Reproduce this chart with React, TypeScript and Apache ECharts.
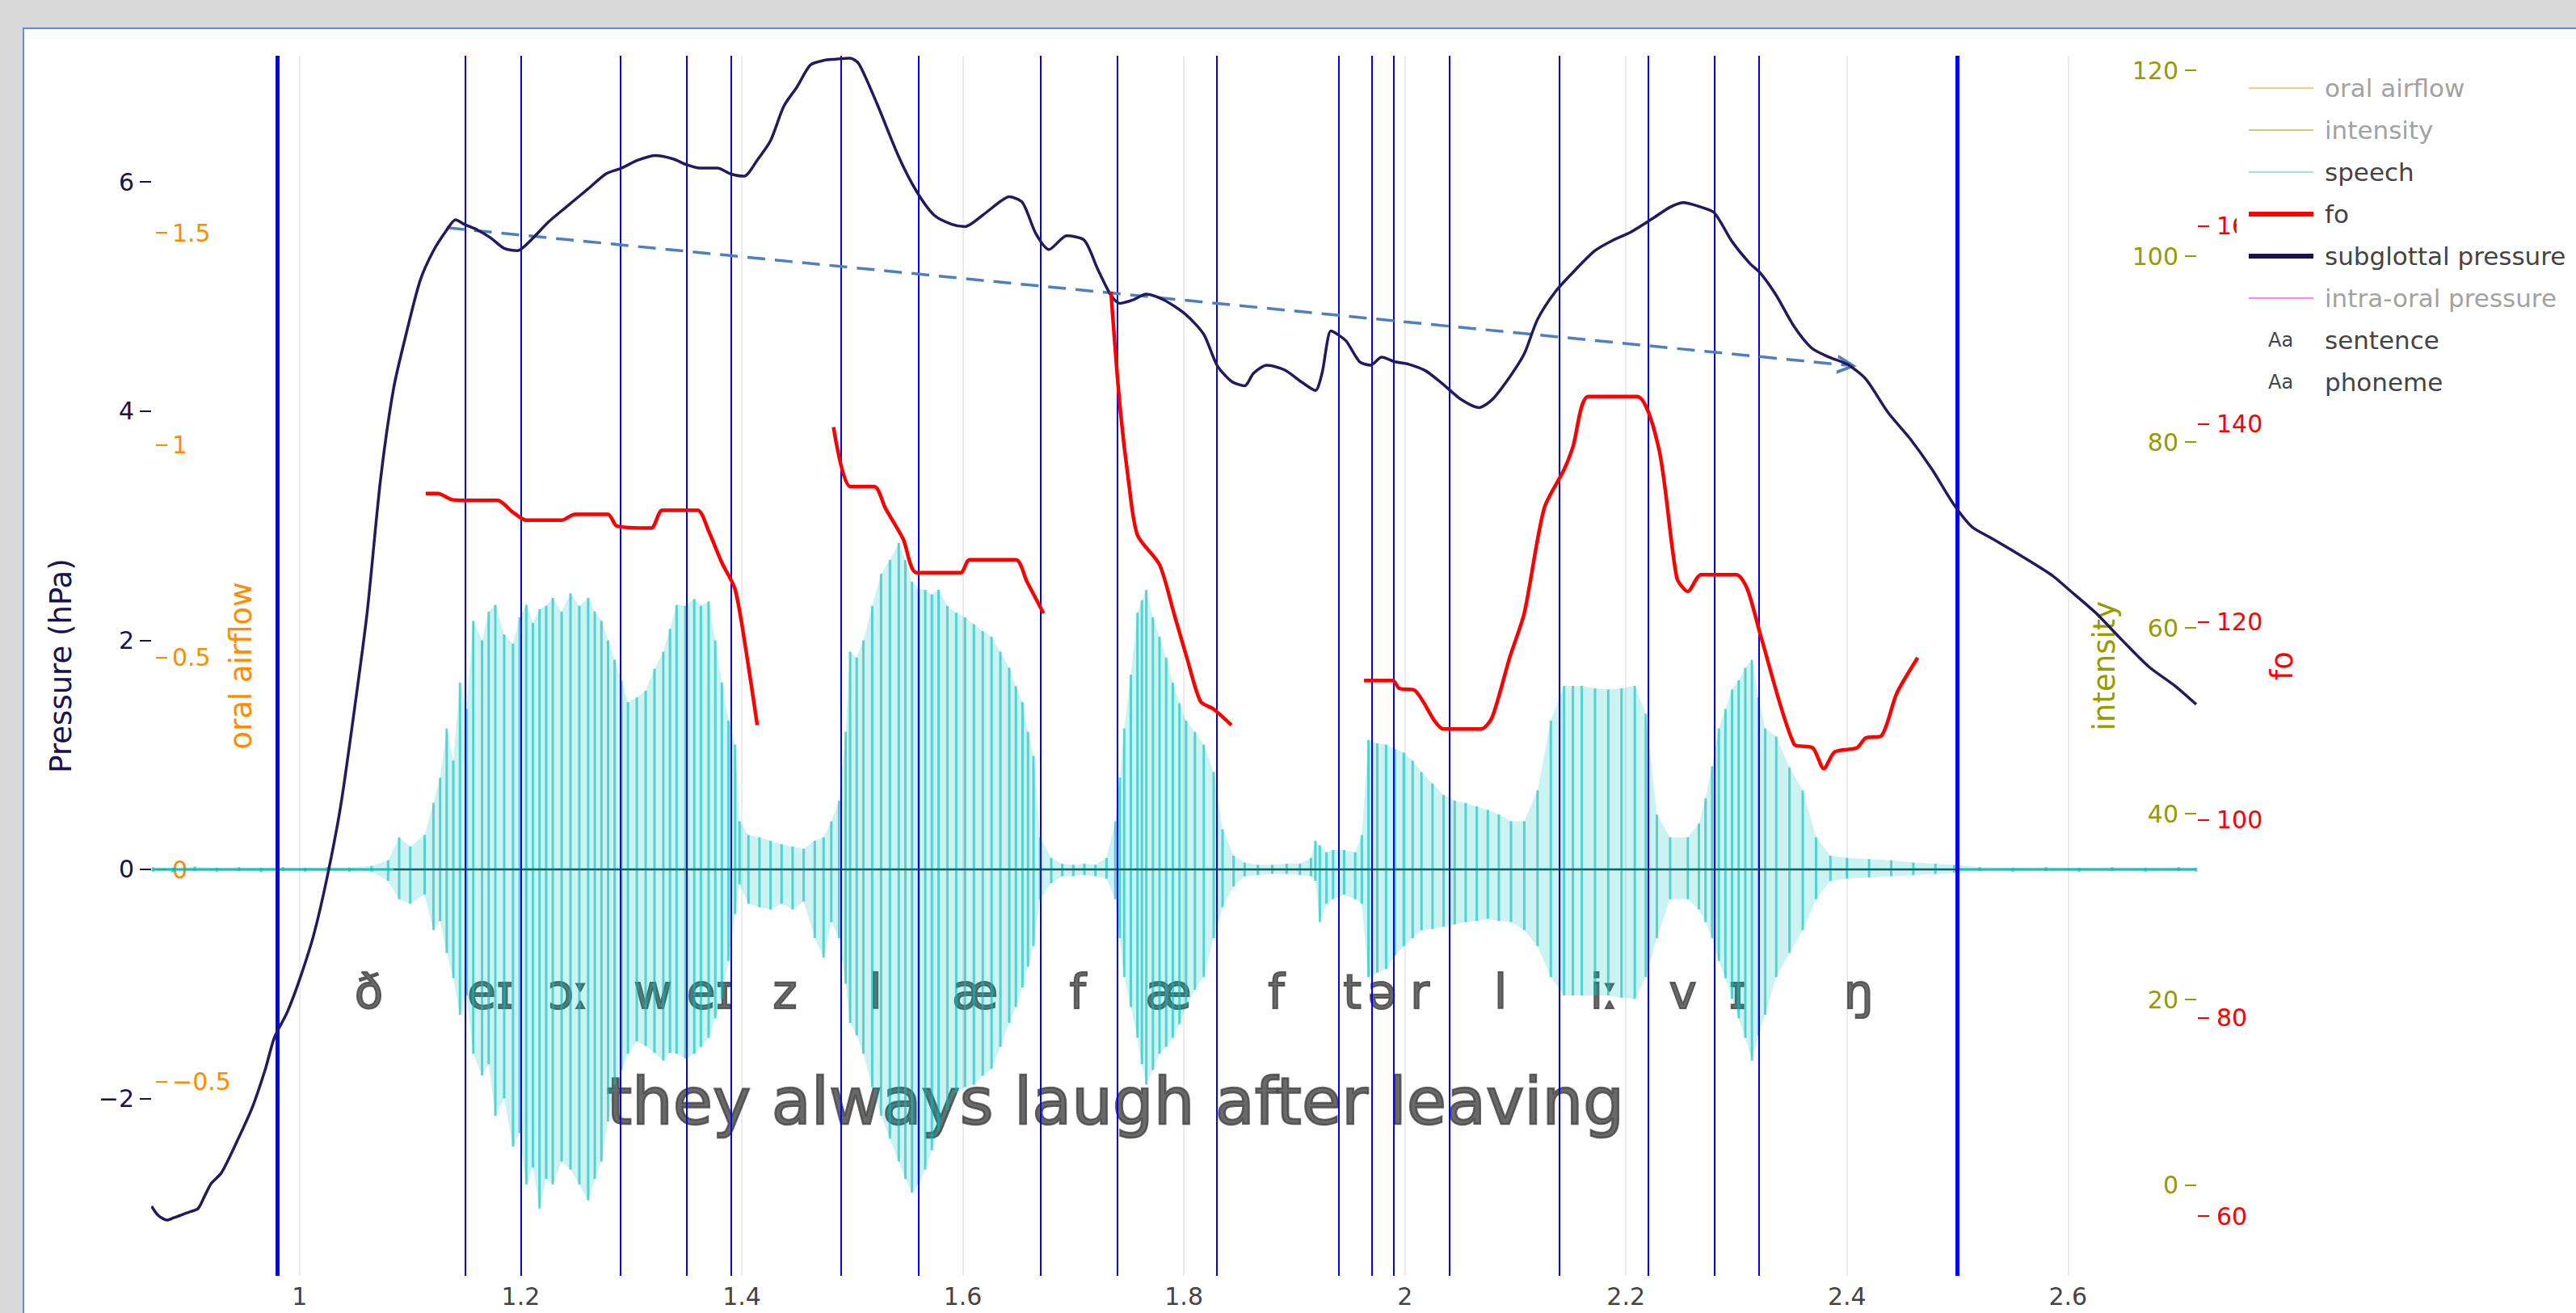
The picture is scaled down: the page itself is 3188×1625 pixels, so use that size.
import React, { useEffect, useRef } from 'react';
import * as echarts from 'echarts';

const FONT = 'DejaVu Sans';

// ---------- axis ticks ----------
const xTicks = [1, 1.2, 1.4, 1.6, 1.8, 2, 2.2, 2.4, 2.6];
const pressureTicks = [-2, 0, 2, 4, 6];
const airflowTicks = [-0.5, 0, 0.5, 1, 1.5];
const intensityTicks = [0, 20, 40, 60, 80, 100, 120];
const foTicks = [60, 80, 100, 120, 140, 160];

// ---------- segmentation ----------
const boundaries = [0.977, 1.148, 1.197, 1.29, 1.349, 1.393, 1.485, 1.557, 1.665, 1.743, 1.829, 1.938, 1.967, 1.992, 2.035, 2.138, 2.223, 2.28, 2.322, 2.499];
const phonemes = ['ð', 'eɪ', 'ɔː', 'w', 'eɪ', 'z', 'l', 'æ', 'f', 'æ', 'f', 't', 'ə', 'r', 'l', 'iː', 'v', 'ɪ', 'ŋ'];
const sentenceText = 'they always laugh after leaving';
const phonemeLevel = -1.07;
const sentenceLevel = -2.03;

// ---------- subglottal pressure (hPa) ----------
const subglottalPressure = [
  [0.866, -2.94], [0.872, -3.02], [0.880, -3.06], [0.886, -3.04], [0.892, -3.02], [0.900, -2.99], [0.908, -2.96], [0.914, -2.85],
  [0.920, -2.74], [0.929, -2.65], [0.941, -2.42], [0.957, -2.08], [0.969, -1.74], [0.977, -1.47], [0.989, -1.24], [1.001, -0.93],
  [1.013, -0.56], [1.025, -0.06], [1.037, 0.55], [1.049, 1.36], [1.061, 2.24], [1.073, 3.39], [1.085, 4.20], [1.097, 4.70],
  [1.109, 5.14], [1.121, 5.40], [1.133, 5.58], [1.141, 5.67], [1.149, 5.63], [1.161, 5.58], [1.173, 5.51], [1.185, 5.42],
  [1.197, 5.40], [1.209, 5.49], [1.225, 5.65], [1.241, 5.78], [1.261, 5.94], [1.277, 6.07], [1.291, 6.12], [1.306, 6.19],
  [1.322, 6.23], [1.338, 6.20], [1.350, 6.15], [1.362, 6.12], [1.378, 6.12], [1.390, 6.07], [1.402, 6.05], [1.414, 6.19],
  [1.426, 6.36], [1.438, 6.66], [1.450, 6.83], [1.462, 7.02], [1.474, 7.06], [1.484, 7.07], [1.498, 7.08], [1.506, 7.03],
  [1.522, 6.69], [1.542, 6.22], [1.558, 5.92], [1.574, 5.71], [1.590, 5.63], [1.602, 5.61], [1.618, 5.71], [1.634, 5.83],
  [1.642, 5.87], [1.654, 5.82], [1.666, 5.55], [1.678, 5.41], [1.694, 5.53], [1.710, 5.49], [1.722, 5.24], [1.734, 5.01],
  [1.742, 4.94], [1.754, 4.97], [1.766, 5.02], [1.782, 4.97], [1.802, 4.84], [1.818, 4.67], [1.830, 4.40], [1.843, 4.26],
  [1.855, 4.22], [1.863, 4.33], [1.875, 4.40], [1.891, 4.36], [1.907, 4.25], [1.919, 4.18], [1.925, 4.33], [1.933, 4.70],
  [1.939, 4.67], [1.947, 4.61], [1.959, 4.43], [1.969, 4.40], [1.979, 4.47], [1.991, 4.43], [2.003, 4.41], [2.019, 4.35],
  [2.035, 4.23], [2.051, 4.10], [2.067, 4.03], [2.079, 4.10], [2.095, 4.30], [2.108, 4.50], [2.120, 4.80], [2.136, 5.04],
  [2.152, 5.21], [2.172, 5.40], [2.188, 5.49], [2.204, 5.56], [2.224, 5.68], [2.240, 5.78], [2.252, 5.82], [2.268, 5.78],
  [2.280, 5.73], [2.296, 5.48], [2.312, 5.29], [2.322, 5.20], [2.336, 5.01], [2.352, 4.74], [2.368, 4.55], [2.384, 4.47],
  [2.400, 4.41], [2.417, 4.28], [2.437, 3.99], [2.457, 3.76], [2.477, 3.49], [2.497, 3.18], [2.513, 2.99], [2.529, 2.90],
  [2.557, 2.74], [2.585, 2.57], [2.601, 2.44], [2.625, 2.24], [2.649, 2.00], [2.673, 1.77], [2.697, 1.60], [2.716, 1.44],
];

// ---------- fo (Hz), voiced stretches ----------
const foSeg1 = [
  [1.114, 133.0], [1.125, 133.0], [1.137, 132.4], [1.149, 132.3], [1.179, 132.3], [1.193, 131.1], [1.205, 130.3], [1.237, 130.3],
  [1.249, 130.9], [1.279, 130.9], [1.287, 129.7], [1.318, 129.5], [1.328, 131.3], [1.360, 131.3], [1.370, 129.2], [1.382, 126.0],
  [1.394, 123.3], [1.404, 117.0], [1.414, 109.6],
];
const foSeg2 = [
  [1.483, 139.7], [1.498, 133.7], [1.520, 133.7], [1.530, 131.5], [1.546, 128.4], [1.558, 125.0], [1.598, 125.0], [1.606, 126.3],
  [1.648, 126.3], [1.658, 124.1], [1.673, 120.9],
];
const foSeg3 = [
  [1.734, 153.4], [1.742, 142.0], [1.750, 134.2], [1.758, 128.8], [1.778, 125.8], [1.791, 120.9], [1.803, 116.3], [1.815, 112.0],
  [1.827, 111.2], [1.843, 109.6],
];
const foSeg4 = [
  [1.963, 114.1], [1.989, 114.1], [1.995, 113.3], [2.009, 113.1], [2.027, 110.0], [2.035, 109.2], [2.069, 109.2], [2.079, 110.4],
  [2.095, 116.5], [2.108, 120.9], [2.126, 131.5], [2.144, 135.4], [2.152, 137.7], [2.166, 142.8], [2.210, 142.8], [2.230, 137.4],
  [2.246, 124.5], [2.256, 123.1], [2.268, 124.8], [2.300, 124.8], [2.310, 123.3], [2.322, 118.6], [2.352, 107.7], [2.369, 107.3],
  [2.379, 105.2], [2.389, 106.9], [2.409, 107.3], [2.417, 108.3], [2.431, 108.5], [2.445, 112.8], [2.464, 116.4],
];

// ---------- speech waveform envelope: [time, upper, lower] ----------
const speechEnvelope = [
  [0.867, 0.02, -0.02], [0.885, 0.015, -0.025], [0.905, 0.025, -0.015], [0.925, 0.015, -0.02], [0.945, 0.02, -0.015],
  [0.965, 0.015, -0.025], [0.985, 0.02, -0.015], [1.005, 0.015, -0.02], [1.025, 0.02, -0.015], [1.045, 0.015, -0.02],
  [1.065, 0.03, -0.02], [1.080, 0.08, -0.10],
  [1.090, 0.28, -0.26], [1.100, 0.20, -0.30], [1.113, 0.30, -0.22], [1.121, 0.58, -0.53], [1.127, 0.80, -0.45], [1.133, 1.23, -0.73],
  [1.139, 0.95, -0.95], [1.145, 1.63, -1.27], [1.151, 1.40, -1.10], [1.157, 2.17, -1.61], [1.165, 2.00, -1.80], [1.171, 2.25, -1.70],
  [1.177, 2.31, -2.15], [1.185, 2.05, -2.00], [1.193, 1.97, -2.42], [1.199, 2.20, -2.30], [1.205, 2.31, -2.75], [1.211, 2.15, -2.60],
  [1.217, 2.27, -2.96], [1.223, 2.30, -2.70], [1.229, 2.37, -2.75], [1.237, 2.25, -2.55], [1.245, 2.41, -2.62], [1.253, 2.30, -2.75],
  [1.261, 2.37, -2.89], [1.267, 2.25, -2.70], [1.273, 2.17, -2.55], [1.279, 2.00, -2.20], [1.285, 1.83, -1.88], [1.291, 1.65, -1.75],
  [1.297, 1.46, -1.61], [1.305, 1.50, -1.50], [1.313, 1.56, -1.54], [1.321, 1.75, -1.60], [1.329, 1.90, -1.67], [1.335, 2.10, -1.60],
  [1.341, 2.31, -1.61], [1.349, 2.30, -1.65], [1.357, 2.36, -1.61], [1.363, 2.30, -1.55], [1.370, 2.34, -1.47], [1.376, 2.00, -1.30],
  [1.382, 1.63, -1.13], [1.388, 1.30, -0.80], [1.394, 1.09, -0.39], [1.398, 0.42, -0.13],
  [1.406, 0.30, -0.30], [1.416, 0.28, -0.33], [1.426, 0.25, -0.35], [1.436, 0.22, -0.30], [1.446, 0.20, -0.35], [1.456, 0.18, -0.28],
  [1.466, 0.25, -0.60], [1.474, 0.28, -0.77], [1.481, 0.42, -0.46], [1.488, 0.60, -0.60],
  [1.494, 1.20, -1.00], [1.498, 1.90, -1.34], [1.504, 1.85, -1.45], [1.510, 2.00, -1.61], [1.518, 2.30, -1.90], [1.526, 2.58, -2.15],
  [1.534, 2.70, -2.35], [1.542, 2.85, -2.55], [1.548, 2.70, -2.70], [1.554, 2.51, -2.82], [1.560, 2.45, -2.75], [1.566, 2.44, -2.62],
  [1.572, 2.40, -2.45], [1.578, 2.44, -2.28], [1.586, 2.30, -2.10], [1.594, 2.24, -1.95], [1.602, 2.20, -1.90], [1.610, 2.14, -1.88],
  [1.618, 2.08, -1.80], [1.626, 2.03, -1.74], [1.634, 1.90, -1.55], [1.642, 1.76, -1.34], [1.648, 1.60, -1.20], [1.654, 1.46, -1.03],
  [1.659, 1.20, -0.85], [1.664, 0.99, -0.67], [1.670, 0.28, -0.26],
  [1.680, 0.10, -0.12], [1.690, 0.05, -0.06], [1.700, 0.04, -0.06], [1.710, 0.05, -0.05], [1.720, 0.04, -0.06], [1.730, 0.10, -0.08],
  [1.738, 0.42, -0.26], [1.742, 0.80, -0.60], [1.746, 1.23, -0.94], [1.752, 1.70, -1.20], [1.758, 2.24, -1.47], [1.762, 2.35, -1.70],
  [1.766, 2.44, -1.88], [1.772, 2.20, -1.75], [1.778, 2.03, -1.61], [1.784, 1.85, -1.55], [1.790, 1.63, -1.47], [1.796, 1.45, -1.35],
  [1.802, 1.30, -1.20], [1.810, 1.20, -1.05], [1.818, 1.09, -0.94], [1.827, 0.85, -0.60], [1.835, 0.35, -0.33],
  [1.845, 0.12, -0.15], [1.855, 0.06, -0.06], [1.867, 0.04, -0.05], [1.880, 0.04, -0.04], [1.893, 0.05, -0.04], [1.905, 0.05, -0.05],
  [1.915, 0.10, -0.06],
  [1.919, 0.25, -0.10], [1.923, 0.21, -0.46], [1.929, 0.15, -0.30], [1.935, 0.17, -0.26], [1.945, 0.17, -0.22], [1.955, 0.15, -0.26],
  [1.961, 0.30, -0.30],
  [1.967, 1.13, -0.94], [1.975, 1.10, -0.90], [1.983, 1.09, -0.87], [1.991, 1.05, -0.75], [1.999, 1.02, -0.67], [2.007, 0.95, -0.60],
  [2.015, 0.85, -0.53], [2.025, 0.75, -0.52], [2.035, 0.65, -0.50], [2.045, 0.60, -0.48], [2.055, 0.58, -0.46], [2.065, 0.55, -0.45],
  [2.075, 0.52, -0.43], [2.085, 0.48, -0.45], [2.096, 0.42, -0.46], [2.108, 0.42, -0.53], [2.120, 0.69, -0.67], [2.132, 1.30, -0.94],
  [2.144, 1.60, -1.10], [2.152, 1.60, -1.10], [2.160, 1.60, -1.10], [2.172, 1.58, -1.10], [2.184, 1.57, -1.10], [2.196, 1.58, -1.12],
  [2.208, 1.60, -1.13], [2.218, 1.36, -0.94], [2.228, 0.48, -0.60], [2.240, 0.28, -0.26], [2.256, 0.28, -0.26], [2.266, 0.40, -0.35],
  [2.272, 0.62, -0.46], [2.278, 0.90, -0.60], [2.284, 1.23, -0.80], [2.290, 1.40, -0.95], [2.296, 1.57, -1.13], [2.302, 1.65, -1.30],
  [2.308, 1.76, -1.47], [2.314, 1.83, -1.67], [2.320, 1.50, -1.45], [2.326, 1.23, -1.27], [2.336, 1.16, -0.94], [2.348, 0.89, -0.73],
  [2.360, 0.69, -0.53], [2.372, 0.28, -0.26],
  [2.385, 0.12, -0.10], [2.400, 0.10, -0.08], [2.420, 0.09, -0.07], [2.440, 0.08, -0.06], [2.460, 0.06, -0.05], [2.480, 0.05, -0.04],
  [2.497, 0.04, -0.03],
  [2.520, 0.02, -0.015], [2.550, 0.015, -0.02], [2.580, 0.02, -0.015], [2.610, 0.015, -0.02], [2.640, 0.02, -0.015],
  [2.670, 0.015, -0.02], [2.700, 0.02, -0.015], [2.716, 0.015, -0.02],
];

// ---------- declining trend annotation ----------
const trendStart = [1.133, 5.60];
const trendEnd = [2.400, 4.40];
const zeroLineRange = [1.085, 2.499];

// ---------- colours ----------
const NAVY = '#221a5e';
const NAVY_TEXT = '#1a1150';
const ORANGE = '#ff8c00';
const OLIVE = '#999900';
const RED = '#ff0000';
const TEXT = '#444444';

const minusFmt = (v: number) => (v < 0 ? '\u2212' + String(Math.abs(v)) : String(v));
const thinIcon = 'path://M0 0H80V2H0Z';
const thickIcon = 'path://M0 0H80V6H0Z';
const chevron = 'path://M10 0L20 20L16.5 20L10 7L3.5 20L0 20Z';

function buildOption(): any {
  const lastB = boundaries.length - 1;
  const sentenceMid = (boundaries[0] + boundaries[lastB]) / 2;
  const phonemeData = phonemes.map((p, i) => ({
    name: p,
    value: [(boundaries[i] + boundaries[i + 1]) / 2, phonemeLevel],
  }));

  const foSeries = [foSeg1, foSeg2, foSeg3, foSeg4].map((seg) => ({
    name: 'fo',
    type: 'line',
    data: seg,
    xAxisIndex: 0,
    yAxisIndex: 3,
    symbol: 'none',
    smooth: 0.25,
    z: 6,
    lineStyle: { color: RED, width: 4.5 },
    itemStyle: { color: RED },
  }));

  return {
    animation: false,
    backgroundColor: '#d9d9d9',
    textStyle: { fontFamily: FONT },
    grid: { left: 189, right: 470, top: 69, bottom: 46, containLabel: false },
    graphic: [
      {
        type: 'rect',
        z: -10,
        silent: true,
        shape: { x: 29, y: 35, width: 3170, height: 1600 },
        style: { fill: '#ffffff', stroke: '#5b8def', lineWidth: 2 },
      },
      {
        type: 'text',
        z: 20,
        x: 2807,
        y: 421,
        style: { text: 'Aa', fontSize: 24, fill: TEXT, fontFamily: FONT, verticalAlign: 'middle' },
      },
      {
        type: 'text',
        z: 20,
        x: 2807,
        y: 473,
        style: { text: 'Aa', fontSize: 24, fill: TEXT, fontFamily: FONT, verticalAlign: 'middle' },
      },
    ],
    legend: {
      orient: 'vertical',
      left: 2768,
      top: 84,
      backgroundColor: '#ffffff',
      padding: [5, 10, 5, 15],
      itemWidth: 80,
      itemHeight: 14,
      itemGap: 12,
      selectedMode: false,
      itemStyle: { borderWidth: 0 },
      textStyle: { fontSize: 31, color: TEXT, fontFamily: FONT, lineHeight: 40, padding: [0, 0, 0, 9] },
      data: [
        { name: 'oral airflow', icon: thinIcon, textStyle: { color: '#a2a2a2' } },
        { name: 'intensity', icon: thinIcon, textStyle: { color: '#a2a2a2' } },
        { name: 'speech', icon: thinIcon },
        { name: 'fo', icon: thickIcon },
        { name: 'subglottal pressure', icon: thickIcon },
        { name: 'intra-oral pressure', icon: thinIcon, textStyle: { color: '#a2a2a2' } },
        { name: 'sentence', icon: 'rect', itemStyle: { opacity: 0 } },
        { name: 'phoneme', icon: 'rect', itemStyle: { opacity: 0 } },
      ],
    },
    xAxis: {
      type: 'value',
      min: 0.867,
      max: 2.716,
      axisLine: { show: false },
      axisTick: { show: false, customValues: xTicks },
      axisLabel: { customValues: xTicks, color: TEXT, fontSize: 30, margin: 10, fontFamily: FONT },
      splitLine: { show: true, lineStyle: { color: '#ebebeb', width: 2 } },
    },
    yAxis: [
      {
        type: 'value',
        position: 'left',
        offset: 2,
        min: -3.547,
        max: 7.101,
        name: 'Pressure (hPa)',
        nameLocation: 'middle',
        nameGap: 93,
        nameRotate: 90,
        nameMoveOverlap: false,
        nameTextStyle: { color: NAVY_TEXT, fontSize: 37, fontFamily: FONT },
        axisLine: { show: false },
        axisTick: { show: true, length: 14, lineStyle: { color: NAVY_TEXT, width: 2 }, customValues: pressureTicks },
        axisLabel: { show: true, color: NAVY_TEXT, fontSize: 30, margin: 21, fontFamily: FONT, customValues: pressureTicks, formatter: minusFmt },
        splitLine: { show: false },
      },
      {
        type: 'value',
        position: 'left',
        offset: -4,
        min: -0.9575,
        max: 1.917,
        name: 'oral airflow',
        nameLocation: 'middle',
        nameGap: -124,
        nameRotate: 90,
        nameMoveOverlap: false,
        nameTextStyle: { color: ORANGE, fontSize: 37, fontFamily: FONT },
        axisLine: { show: false },
        axisTick: { show: true, inside: true, length: 14, lineStyle: { color: ORANGE, width: 2 }, customValues: airflowTicks },
        axisLabel: { show: true, inside: true, color: ORANGE, fontSize: 30, margin: 20, fontFamily: FONT, customValues: airflowTicks, formatter: minusFmt },
        splitLine: { show: false },
      },
      {
        type: 'value',
        position: 'right',
        offset: 0,
        min: -9.74,
        max: 121.57,
        name: 'intensity',
        nameLocation: 'middle',
        nameGap: -132,
        nameRotate: 90,
        nameMoveOverlap: false,
        nameTextStyle: { color: OLIVE, fontSize: 37, fontFamily: FONT },
        axisLine: { show: false },
        axisTick: { show: true, inside: true, length: 14, lineStyle: { color: OLIVE, width: 2 }, customValues: intensityTicks },
        axisLabel: { show: true, inside: true, color: OLIVE, fontSize: 30, margin: 22, fontFamily: FONT, customValues: intensityTicks },
        splitLine: { show: false },
      },
      {
        type: 'value',
        position: 'right',
        offset: 2,
        min: 53.96,
        max: 177.22,
        name: 'fo',
        nameLocation: 'middle',
        nameGap: 86,
        nameRotate: 90,
        nameMoveOverlap: false,
        nameTextStyle: { color: RED, fontSize: 37, fontFamily: FONT },
        axisLine: { show: false },
        axisTick: { show: true, length: 14, lineStyle: { color: RED, width: 2 }, customValues: foTicks },
        axisLabel: { show: true, color: RED, fontSize: 30, margin: 23, fontFamily: FONT, customValues: foTicks },
        splitLine: { show: false },
      },
    ],
    series: [
      {
        name: 'sentence',
        type: 'scatter',
        xAxisIndex: 0,
        yAxisIndex: 0,
        z: 1,
        symbolSize: 0,
        silent: true,
        itemStyle: { color: TEXT },
        data: [{ name: sentenceText, value: [sentenceMid, sentenceLevel] }],
        label: {
          show: true, position: 'inside', formatter: '{b}', fontSize: 80, color: TEXT, fontFamily: FONT,
          textBorderColor: TEXT, textBorderWidth: 2.5,
        },
      },
      {
        name: 'phoneme',
        type: 'scatter',
        xAxisIndex: 0,
        yAxisIndex: 0,
        z: 1,
        symbolSize: 0,
        silent: true,
        itemStyle: { color: TEXT },
        data: phonemeData,
        label: {
          show: true, position: 'inside', formatter: '{b}', fontSize: 58, color: TEXT, fontFamily: FONT,
          textBorderColor: TEXT, textBorderWidth: 2,
        },
      },
      {
        name: 'speech',
        type: 'custom',
        xAxisIndex: 0,
        yAxisIndex: 0,
        z: 3,
        silent: true,
        itemStyle: { color: '#a2e3e3' },
        encode: { x: 0, y: [1, 2] },
        data: speechEnvelope,
        renderItem: (params: any, api: any) => {
          const i = params.dataIndex;
          const cur = speechEnvelope[i];
          const top = api.coord([cur[0], cur[1]]);
          const bot = api.coord([cur[0], cur[2]]);
          const children: any[] = [];
          if (i > 0) {
            const prev = speechEnvelope[i - 1];
            const pTop = api.coord([prev[0], prev[1]]);
            const pBot = api.coord([prev[0], prev[2]]);
            children.push({
              type: 'polygon',
              shape: { points: [pTop, top, bot, pBot] },
              style: { fill: 'rgba(0,190,190,0.2)' },
            });
            const pBase = api.coord([prev[0], 0]);
            const base = api.coord([cur[0], 0]);
            children.push({
              type: 'line',
              shape: { x1: pBase[0], y1: pBase[1], x2: base[0], y2: base[1] },
              style: { stroke: 'rgba(0,178,178,0.85)', lineWidth: 3 },
            });
          }
          children.push({
            type: 'line',
            shape: { x1: top[0], y1: top[1], x2: bot[0], y2: bot[1] },
            style: { stroke: 'rgba(0,190,190,0.6)', lineWidth: 3 },
          });
          return { type: 'group', children };
        },
      },
      {
        name: 'boundaries',
        type: 'line',
        xAxisIndex: 0,
        yAxisIndex: 0,
        z: 4,
        data: [],
        markLine: {
          silent: true,
          symbol: 'none',
          label: { show: false },
          animation: false,
          data: [
            ...boundaries.map((b, i) => ({
              xAxis: b,
              lineStyle: { color: '#0000ff', width: i === 0 || i === lastB ? 5 : 2, type: 'solid' },
            })),
            [
              { coord: [zeroLineRange[0], 0], lineStyle: { color: '#333333', width: 1.5, type: 'solid' } },
              { coord: [zeroLineRange[1], 0] },
            ],
          ],
        },
      },
      {
        name: 'oral airflow',
        type: 'line',
        xAxisIndex: 0,
        yAxisIndex: 1,
        data: [],
        symbol: 'none',
        lineStyle: { color: '#ffc680', width: 2 },
        itemStyle: { color: '#ffc680' },
      },
      {
        name: 'intensity',
        type: 'line',
        xAxisIndex: 0,
        yAxisIndex: 2,
        data: [],
        symbol: 'none',
        lineStyle: { color: '#cccc80', width: 2 },
        itemStyle: { color: '#cccc80' },
      },
      {
        name: 'intra-oral pressure',
        type: 'line',
        xAxisIndex: 0,
        yAxisIndex: 0,
        data: [],
        symbol: 'none',
        lineStyle: { color: '#ff80ff', width: 2 },
        itemStyle: { color: '#ff80ff' },
      },
      {
        name: 'subglottal pressure',
        type: 'line',
        xAxisIndex: 0,
        yAxisIndex: 0,
        data: subglottalPressure,
        symbol: 'none',
        smooth: 0.25,
        z: 5,
        lineStyle: { color: NAVY, width: 3.5 },
        itemStyle: { color: NAVY_TEXT },
      },
      ...foSeries,
      {
        name: 'trend',
        type: 'line',
        xAxisIndex: 0,
        yAxisIndex: 0,
        z: 7,
        data: [],
        markLine: {
          silent: true,
          symbol: ['none', chevron],
          symbolSize: 24,
          label: { show: false },
          animation: false,
          lineStyle: { color: '#4f7fbf', width: 3.5, type: [22, 12] },
          data: [[{ coord: trendStart }, { coord: trendEnd }]],
        },
      },
    ],
  };
}

export default function App() {
  const ref = useRef<HTMLDivElement>(null);
  useEffect(() => {
    if (!ref.current) return;
    const chart = echarts.init(ref.current, null, { renderer: 'svg', width: 3188, height: 1625 });
    chart.setOption(buildOption());
    return () => chart.dispose();
  }, []);
  return <div ref={ref} style={{ position: 'absolute', left: 0, top: 0, width: 3188, height: 1625 }} />;
}
